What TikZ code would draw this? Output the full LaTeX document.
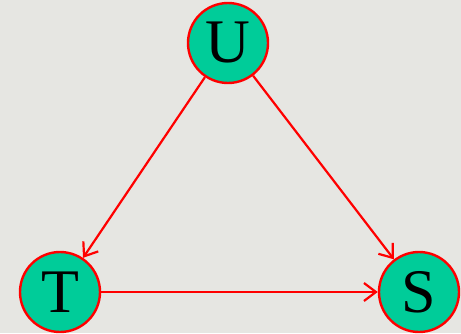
\documentclass[tikz,border=0pt]{standalone}
\usepackage{fontspec}
\setmainfont{Liberation Serif}
\usetikzlibrary{arrows.meta}
\definecolor{bg}{RGB}{230,230,226}
\definecolor{teal}{RGB}{0,204,153}
\begin{document}
\begin{tikzpicture}[x=1pt,y=1pt,
  var/.style={circle,draw=red,fill=teal,line width=2.4pt,minimum size=80pt,inner sep=0pt,font=\fontsize{62}{62}\selectfont},
  link/.style={draw=red,line width=2.2pt,-{Straight Barb[length=12pt,width=18pt,line width=2.2pt]}}]
\fill[bg] (0,0) rectangle (461,333);
\useasboundingbox (0,0) rectangle (461,333);
\node[var] (U) at (228,290) {U};
\node[var] (T) at (60,41) {T};
\node[var] (S) at (419,41) {S};
\draw[link] (U) -- (T);
\draw[link] (U) -- (S);
\draw[link] (T) -- (S);
\end{tikzpicture}
\end{document}
